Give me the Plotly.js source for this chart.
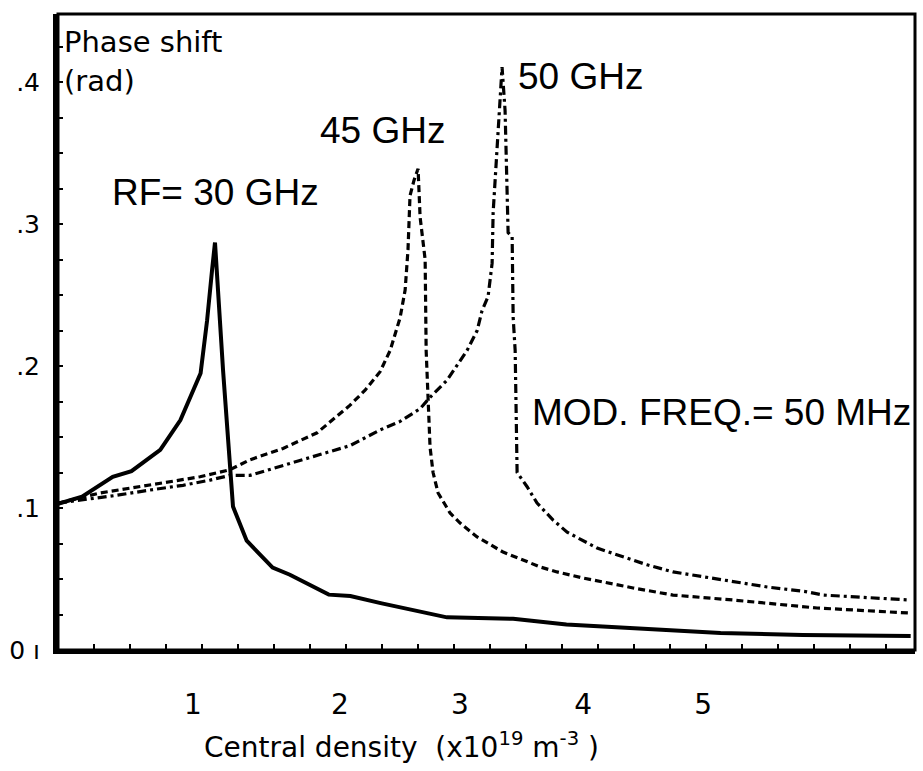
<!DOCTYPE html>
<html>
<head>
<meta charset="utf-8">
<script src="https://cdn.plot.ly/plotly-3.0.1.min.js"></script>
<style>
  html, body { margin: 0; padding: 0; background: #ffffff; overflow: hidden; }
  #chart { width: 923px; height: 771px; }
</style>
</head>
<body>
<div id="chart"></div>
<script>
// ---- data (x: central density, 1e19 m^-3; y: phase shift, rad) ----
const rf30_x = [0, 0.167, 0.38, 0.51, 0.71, 0.85, 0.99, 1.035, 1.07, 1.09, 1.146, 1.194, 1.215, 1.31, 1.49, 1.61, 1.88, 2.03, 2.24, 2.70, 3.16, 3.53, 4.06, 4.60, 5.17, 5.92];
const rf30_y = [0.103, 0.108, 0.122, 0.126, 0.141, 0.162, 0.195, 0.232, 0.268, 0.287, 0.197, 0.129, 0.101, 0.077, 0.058, 0.053, 0.039, 0.038, 0.033, 0.023, 0.022, 0.018, 0.015, 0.012, 0.0106, 0.0099];

const rf45_x = [0, 0.292, 0.5, 0.757, 0.986, 1.194, 1.333, 1.5625, 1.799, 2.028, 2.132, 2.236, 2.306, 2.375, 2.41, 2.43, 2.444, 2.472, 2.5, 2.514, 2.549, 2.556, 2.569, 2.583, 2.604, 2.639, 2.722, 2.792, 2.91, 3.0, 3.09, 3.229, 3.347, 3.465, 3.646, 3.993, 4.27, 4.6875, 5.035, 5.27, 5.917];
const rf45_y = [0.1035, 0.1106, 0.114, 0.118, 0.122, 0.127, 0.134, 0.142, 0.153, 0.1725, 0.183, 0.196, 0.211, 0.234, 0.2535, 0.282, 0.320, 0.331, 0.339, 0.305, 0.275, 0.211, 0.176, 0.143, 0.125, 0.1106, 0.0965, 0.0894, 0.0796, 0.074, 0.069, 0.0634, 0.0585, 0.055, 0.0507, 0.0437, 0.0387, 0.0352, 0.0317, 0.0296, 0.026];

const rf50_x = [0, 0.41, 0.639, 0.868, 1.056, 1.194, 1.333, 1.5625, 1.799, 2.028, 2.236, 2.375, 2.514, 2.583, 2.701, 2.84, 2.91, 2.944, 2.986, 3.014, 3.021, 3.049, 3.069, 3.083, 3.104, 3.125, 3.153, 3.16, 3.174, 3.1875, 3.257, 3.326, 3.4375, 3.535, 3.743, 4.09, 4.27, 4.646, 4.924, 5.20, 5.3125, 5.917];
const rf50_y = [0.1035, 0.109, 0.1127, 0.116, 0.1197, 0.123, 0.123, 0.130, 0.137, 0.144, 0.155, 0.161, 0.170, 0.178, 0.190, 0.211, 0.225, 0.239, 0.249, 0.2725, 0.308, 0.354, 0.380, 0.4106, 0.380, 0.294, 0.291, 0.2345, 0.211, 0.125, 0.115, 0.1035, 0.0915, 0.083, 0.0718, 0.060, 0.055, 0.049, 0.0444, 0.041, 0.0387, 0.0352];

// tick labels (placed where the reference prints them)
const xTickText = ['1', '2', '3', '4', '5'];
const xTickAt   = [0.9375, 1.958, 2.79, 3.646, 4.479];
const yTickVals = [0, 0.1, 0.2, 0.3, 0.4];
const yTickText = ['0 ı', '.1', '.2', '.3', '.4'];

const seriesNames = ['RF= 30 GHz', '45 GHz', '50 GHz'];

const axisFont = {family: 'DejaVu Sans, Verdana, sans-serif', color: '#000'};
const labelFont = {family: 'Liberation Sans, Arial, Helvetica, sans-serif', size: 37, color: '#000'};

const traces = [
  {x: rf30_x, y: rf30_y, name: seriesNames[0], mode: 'lines',
   line: {color: '#000', width: 4}},
  {x: rf45_x, y: rf45_y, name: seriesNames[1], mode: 'lines',
   line: {color: '#000', width: 3.2, dash: '7px,4px'}},
  {x: rf50_x, y: rf50_y, name: seriesNames[2], mode: 'lines',
   line: {color: '#000', width: 3.2, dash: '9px,4px,3px,4px'}}
];

const layout = {
  width: 923, height: 771,
  margin: {l: 58, r: 8, t: 14, b: 121},
  paper_bgcolor: '#fff', plot_bgcolor: '#fff',
  showlegend: false,
  xaxis: {
    range: [0, 5.95], showgrid: false, zeroline: false,
    showline: true, linecolor: '#000', linewidth: 4,
    tickmode: 'array', tickvals: xTickAt, ticktext: xTickText,
    ticks: '', ticklabelstandoff: 26,
    tickfont: Object.assign({size: 28}, axisFont),
    minor: {tickmode: 'linear', tick0: 0, dtick: 0.25, ticks: 'inside', ticklen: 6, tickwidth: 2, tickcolor: '#000', showgrid: false}
  },
  yaxis: {
    range: [0, 0.448], showgrid: false, zeroline: false,
    showline: true, linecolor: '#000', linewidth: 5,
    tickmode: 'array', tickvals: yTickVals, ticktext: yTickText,
    ticks: 'inside', ticklen: 5, tickwidth: 2, tickcolor: '#000',
    ticklabelstandoff: 8,
    tickfont: Object.assign({size: 25}, axisFont),
    minor: {tickmode: 'linear', tick0: 0, dtick: 0.025, ticks: 'inside', ticklen: 5, tickwidth: 2, tickcolor: '#000', showgrid: false}
  },
  shapes: [
    {type: 'rect', xref: 'paper', yref: 'paper', x0: 0, x1: 1, y0: 0, y1: 1,
     line: {color: '#000', width: 3}, layer: 'above'}
  ],
  annotations: [
    {text: 'Phase shift', xref: 'x', yref: 'y', x: 0.028, y: 0.428, xanchor: 'left', yanchor: 'middle', showarrow: false, font: Object.assign({size: 29}, axisFont)},
    {text: '(rad)', xref: 'x', yref: 'y', x: 0.028, y: 0.401, xanchor: 'left', yanchor: 'middle', showarrow: false, font: Object.assign({size: 29}, axisFont)},
    {text: seriesNames[0], xref: 'x', yref: 'y', x: 0.361, y: 0.3225, xanchor: 'left', yanchor: 'middle', showarrow: false, font: labelFont},
    {text: seriesNames[1], xref: 'x', yref: 'y', x: 1.806, y: 0.366, xanchor: 'left', yanchor: 'middle', showarrow: false, font: labelFont},
    {text: seriesNames[2], xref: 'x', yref: 'y', x: 3.18, y: 0.404, xanchor: 'left', yanchor: 'middle', showarrow: false, font: labelFont},
    {text: 'MOD. FREQ.= 50 MHz', xref: 'x', yref: 'y', x: 3.275, y: 0.167, xanchor: 'left', yanchor: 'middle', showarrow: false, font: labelFont},
    {text: 'Central density  (x10<sup>19</sup> m<sup>-3</sup> )', xref: 'paper', yref: 'paper', x: 0.401, y: -0.183, xanchor: 'center', yanchor: 'bottom', showarrow: false, font: Object.assign({size: 28}, axisFont)}
  ]
};

Plotly.newPlot('chart', traces, layout, {displayModeBar: false, staticPlot: true});
</script>
</body>
</html>
